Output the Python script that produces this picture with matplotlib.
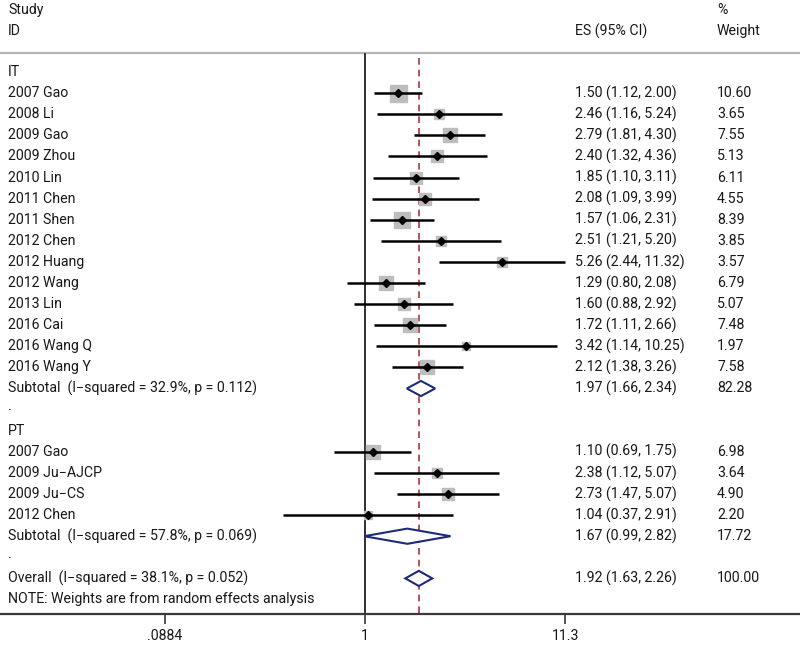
import matplotlib
matplotlib.use("Agg")
import matplotlib.pyplot as plt
import matplotlib.transforms as mtransforms
import numpy as np

plt.rcParams['font.family'] = ['Roboto', 'DejaVu Sans']

# ---- data ----
it_studies = ["2007 Gao", "2008 Li", "2009 Gao", "2009 Zhou", "2010 Lin", "2011 Chen",
              "2011 Shen", "2012 Chen", "2012 Huang", "2012 Wang", "2013 Lin", "2016 Cai",
              "2016 Wang Q", "2016 Wang Y"]
it_es = [1.50, 2.46, 2.79, 2.40, 1.85, 2.08, 1.57, 2.51, 5.26, 1.29, 1.60, 1.72, 3.42, 2.12]
it_lo = [1.12, 1.16, 1.81, 1.32, 1.10, 1.09, 1.06, 1.21, 2.44, 0.80, 0.88, 1.11, 1.14, 1.38]
it_hi = [2.00, 5.24, 4.30, 4.36, 3.11, 3.99, 2.31, 5.20, 11.32, 2.08, 2.92, 2.66, 10.25, 3.26]
it_w = [10.60, 3.65, 7.55, 5.13, 6.11, 4.55, 8.39, 3.85, 3.57, 6.79, 5.07, 7.48, 1.97, 7.58]
it_sub = (1.97, 1.66, 2.34, 82.28)
it_sub_label = "Subtotal  (I\u2212squared = 32.9%, p = 0.112)"

pt_studies = ["2007 Gao", "2009 Ju\u2212AJCP", "2009 Ju\u2212CS", "2012 Chen"]
pt_es = [1.10, 2.38, 2.73, 1.04]
pt_lo = [0.69, 1.12, 1.47, 0.37]
pt_hi = [1.75, 5.07, 5.07, 2.91]
pt_w = [6.98, 3.64, 4.90, 2.20]
pt_sub = (1.67, 0.99, 2.82, 17.72)
pt_sub_label = "Subtotal  (I\u2212squared = 57.8%, p = 0.069)"

overall = (1.92, 1.63, 2.26, 100.00)
overall_label = "Overall  (I\u2212squared = 38.1%, p = 0.052)"
note = "NOTE: Weights are from random effects analysis"

tick_vals = [0.0884, 1, 11.3]
tick_labels = [".0884", "1", "11.3"]

# ---- figure ----
W, H = 800, 649
fig = plt.figure(figsize=(8, 6.49), dpi=100)
ax = fig.add_axes([0, 0, 1, 1])
ax.set_xscale('log')
ppd = 190.0  # pixels per decade
x0 = 365.0   # pixel of x=1
ax.set_xlim(10 ** (-x0 / ppd), 10 ** ((W - x0) / ppd))
row0, rstep = 72.0, 21.1
ax.set_ylim((H - row0) / rstep, -row0 / rstep)

def ypx(p):
    return (p - row0) / rstep

tr = mtransforms.blended_transform_factory(ax.transAxes, ax.transData)
txt_color = "#1a1718"
fs = 10.2
xl, xes, xw = 8 / W, 575 / W, 717 / W

def t(x, y, s, **kw):
    ax.text(x, y, s, transform=tr, fontsize=fs, color=txt_color, va='center', ha='left', **kw)

# headers
t(xl, ypx(10), "Study")
t(xl, ypx(31), "ID")
t(xes, ypx(31), "ES (95% CI)")
t(xw, ypx(10), "%")
t(xw, ypx(31), "Weight")
ax.plot([0, 1], [ypx(53), ypx(53)], transform=tr, color="#b5b5b5", lw=1.6, clip_on=False)

axis_y = ypx(614)
ax.plot([1, 1], [ypx(54), axis_y], color="#231f20", lw=1.3, zorder=2)
ax.plot([overall[0], overall[0]], [ypx(58), axis_y], color="#b0343c", lw=1.2,
        ls=(0, (4, 3)), zorder=2)

box_ref = 17.0 * 0.72  # points for weight 10.6

def study_row(y, name, es, lo, hi, w):
    t(xl, y, name)
    ms = box_ref * np.sqrt(w / 10.6)
    ax.plot([es], [y], marker='s', ms=ms, color="#bdbdbd", mec="#bdbdbd", zorder=3)
    ax.plot([lo, hi], [y, y], color="black", lw=1.8, zorder=4, solid_capstyle='butt')
    ax.plot([es], [y], marker='D', ms=4.2, color="black", zorder=5)
    t(xes, y, f"{es:.2f} ({lo:.2f}, {hi:.2f})")
    t(xw, y, f"{w:.2f}")

def diamond_row(y, label, vals):
    es, lo, hi, w = vals
    t(xl, y, label)
    h = 0.36
    ax.fill([lo, es, hi, es, lo], [y, y - h, y, y + h, y], facecolor="white",
            edgecolor="#1e2a78", lw=1.5, zorder=4)
    t(xes, y, f"{es:.2f} ({lo:.2f}, {hi:.2f})")
    t(xw, y, f"{w:.2f}")

r = 0
t(xl, r, "IT")
r += 1
for i in range(len(it_studies)):
    study_row(r, it_studies[i], it_es[i], it_lo[i], it_hi[i], it_w[i])
    r += 1
diamond_row(r, it_sub_label, it_sub)
r += 1
t(xl, r - 0.15, ".")
r += 1
t(xl, r, "PT")
r += 1
for i in range(len(pt_studies)):
    study_row(r, pt_studies[i], pt_es[i], pt_lo[i], pt_hi[i], pt_w[i])
    r += 1
diamond_row(r, pt_sub_label, pt_sub)
r += 1
t(xl, r - 0.15, ".")
r += 1
diamond_row(r, overall_label, overall)
r += 1
t(xl, r, note)

# axis
for s in ['top', 'left', 'right']:
    ax.spines[s].set_visible(False)
ax.spines['bottom'].set_position(('data', axis_y))
ax.spines['bottom'].set_color("#3a3a3a")
ax.spines['bottom'].set_linewidth(1.6)
ax.set_xticks(tick_vals)
ax.set_xticklabels(tick_labels)
ax.xaxis.set_minor_locator(matplotlib.ticker.NullLocator())
ax.tick_params(axis='x', direction='out', length=7, width=1.2, color="#3a3a3a",
               labelsize=fs, labelcolor=txt_color, pad=4)
ax.set_yticks([])

fig.savefig("out.png", dpi=100)
